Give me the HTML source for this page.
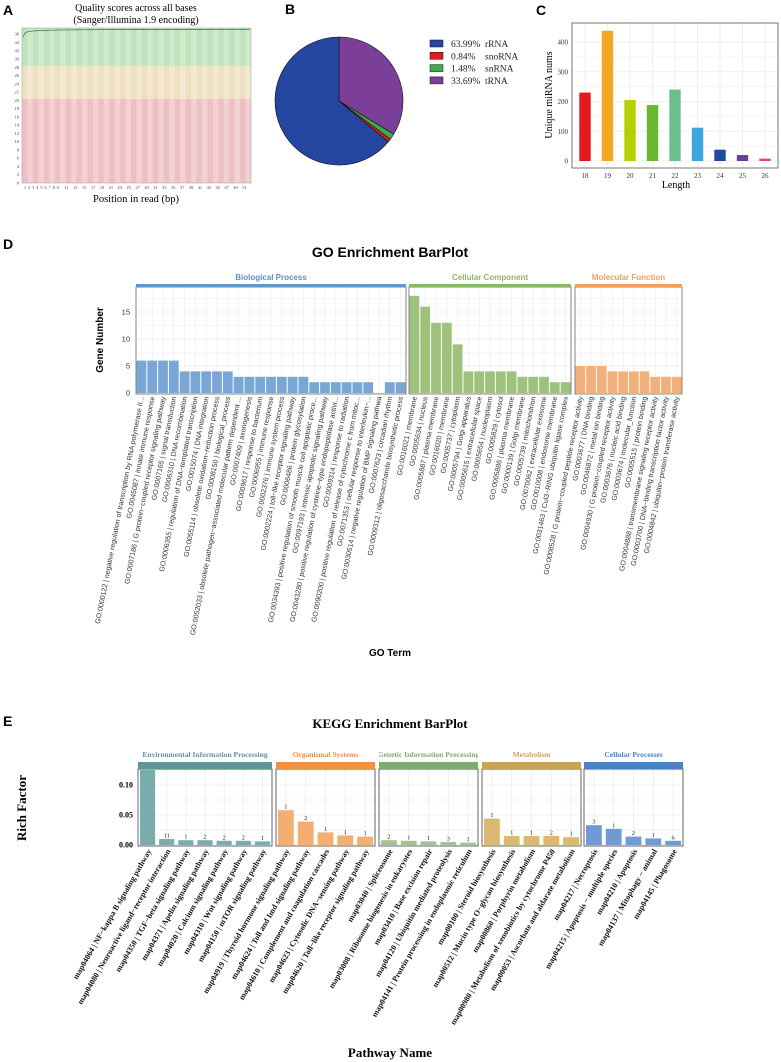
<!DOCTYPE html>
<html><head><meta charset="utf-8">
<style>
html,body{margin:0;padding:0;background:#fff;}
svg{display:block;}
</style></head>
<body>
<svg id="s" xmlns="http://www.w3.org/2000/svg" width="781" height="1062" viewBox="0 0 781 1062" font-family="Liberation Sans, sans-serif">
<rect width="781" height="1062" fill="#fff"/>
<g font-weight="bold" font-size="14" fill="#000">
<text x="3" y="15">A</text><text x="285" y="14">B</text><text x="536" y="15">C</text>
<text x="3" y="249">D</text><text x="3" y="726">E</text>
</g>
</svg>
<script>
var S=document.getElementById('s'),NS='http://www.w3.org/2000/svg';
function el(t,a,txt,p){var e=document.createElementNS(NS,t);for(var k in a)e.setAttribute(k,a[k]);if(txt!=null)e.textContent=txt;(p||S).appendChild(e);return e;}
var serif='Liberation Serif, serif';
// ---------- A ----------
el('text',{x:136,y:11,'font-family':serif,'font-size':10,'text-anchor':'middle'},'Quality scores across all bases');
el('text',{x:136,y:23,'font-family':serif,'font-size':10,'text-anchor':'middle'},'(Sanger/Illumina 1.9 encoding)');
var ax0=22,ax1=251,ay0=28,ay1=183;
el('rect',{x:ax0,y:ay0,width:ax1-ax0,height:66-ay0,fill:'#bfe3bd'});
el('rect',{x:ax0,y:66,width:ax1-ax0,height:33,fill:'#efe0c0'});
el('rect',{x:ax0,y:99,width:ax1-ax0,height:ay1-99,fill:'#eec0c4'});
var nS=42,sw=(ax1-ax0)/nS;
for(var i=1;i<nS;i+=2){el('rect',{x:ax0+i*sw,y:ay0,width:sw,height:ay1-ay0,fill:'#fff',opacity:0.25});}
el('rect',{x:ax0,y:ay0,width:ax1-ax0,height:ay1-ay0,fill:'none',stroke:'#999','stroke-width':0.5});
for(var v=0;v<=36;v+=2){var y=ay1-v*(ay1-ay0)/37.5;el('text',{x:ax0-3,y:y+1.5,'font-family':serif,'font-size':4.5,'text-anchor':'end',fill:'#444'},v);}
el('polyline',{points:'23,37 25,33 28,31.5 33,31 40,30.5 60,30 100,29.6 250,29.5',fill:'none',stroke:'#3d7a5a','stroke-width':0.8});
var xl=[1,2,3,4,5,6,7,8,9,11,13,15,17,19,21,23,25,27,29,31,33,35,37,39,41,43,45,47,49,51];
for(var i=0;i<xl.length;i++){var xx=i<9?ax0+3+i*4.1:ax0+3+36.9+(i-8.5)*(ax1-ax0-42)/21;el('text',{x:xx,y:189,'font-family':serif,'font-size':4.5,'text-anchor':'middle',fill:'#444'},xl[i]);}
el('text',{x:136,y:202,'font-family':serif,'font-size':10.5,'text-anchor':'middle'},'Position in read (bp)');
// ---------- B ----------
var cx=339,cy=101,r=64;
var sl=[[33.69,'#7b3f99'],[1.48,'#3aad48'],[0.84,'#e31a1c'],[63.99,'#2546a0']];
var a=0;
sl.forEach(function(s){var a2=a+s[0]/100*2*Math.PI;var x1=cx+r*Math.sin(a),y1=cy-r*Math.cos(a),x2=cx+r*Math.sin(a2),y2=cy-r*Math.cos(a2);
el('path',{d:'M'+cx+','+cy+'L'+x1+','+y1+'A'+r+','+r+' 0 '+((a2-a)>Math.PI?1:0)+' 1 '+x2+','+y2+'Z',fill:s[1],stroke:'#111','stroke-width':0.6});a=a2;});
var lg=[['#2546a0','63.99%','rRNA'],['#e31a1c','0.84%','snoRNA'],['#3aad48','1.48%','snRNA'],['#7b3f99','33.69%','tRNA']];
lg.forEach(function(l,i){var y=40+i*12.3;el('rect',{x:430,y:y,width:13,height:7,fill:l[0],stroke:'#111','stroke-width':0.5});
el('text',{x:451,y:y+7,'font-family':serif,'font-size':9.5,fill:'#222'},l[1]);el('text',{x:485,y:y+7,'font-family':serif,'font-size':9.5,fill:'#222'},l[2]);});
// ---------- C ----------
var px0=572,px1=778,py0=23,py1=168,y0=161,k=119/400;
for(var v=0;v<=400;v+=50){var y=y0-v*k;el('line',{x1:px0,x2:px1,y1:y,y2:y,stroke:'#ebebeb','stroke-width':v%100?0.4:0.8});}
var cv=[230,438,205,188,240,112,38,20,8],cc=['#e31a1c','#f5a623','#b5d000','#6ab82e','#6cc08d','#3da6e0','#1f4c9c','#6a3d9a','#e0458c'];
for(var i=0;i<9;i++){var x=585+i*22.5;el('line',{x1:x,x2:x,y1:py0,y2:py1,stroke:'#ebebeb','stroke-width':0.8});}
for(var i=0;i<9;i++){var x=585+i*22.5;el('rect',{x:x-5.7,y:y0-cv[i]*k,width:11.4,height:cv[i]*k,fill:cc[i]});
el('text',{x:x,y:178,'font-family':serif,'font-size':7,'text-anchor':'middle',fill:'#333'},18+i);}
el('rect',{x:px0,y:py0,width:px1-px0,height:py1-py0,fill:'none',stroke:'#555','stroke-width':0.8});
for(var v=0;v<=400;v+=100){var y=y0-v*k;el('text',{x:px0-4,y:y+2.5,'font-family':serif,'font-size':7,'text-anchor':'end',fill:'#333'},v);}
el('text',{x:676,y:188,'font-family':serif,'font-size':10,'text-anchor':'middle'},'Length');
el('text',{transform:'translate(552,95) rotate(-90)','font-family':serif,'font-size':10,'text-anchor':'middle'},'Unique miRNA nums');
// ---------- D ----------
el('text',{x:390,y:257,'font-size':14,'font-weight':'bold','text-anchor':'middle'},'GO Enrichment BarPlot');
var GY0=393,GT=287,gk=5.4;
var gp=[
{x0:136,x1:406,c:'#7aa6d6',sc:'#6497c9',tc:'#5b8fc7',t:'Biological Process',v:[6,6,6,6,4,4,4,4,4,3,3,3,3,3,3,3,2,2,2,2,2,2,0,2,2],
l:['GO:0000122 | negative regulation of transcription by RNA polymerase II...','GO:0045087 | innate immune response','GO:0007186 | G protein−coupled receptor signaling pathway','GO:0007165 | signal transduction','GO:0006310 | DNA recombination','GO:0006355 | regulation of DNA−templated transcription','GO:0015074 | DNA integration','GO:0055114 | obsolete oxidation−reduction process','GO:0008150 | biological_process','GO:0052033 | obsolete pathogen−associated molecular pattern dependent ...','GO:0007409 | axonogenesis','GO:0009617 | response to bacterium','GO:0006955 | immune response','GO:0002376 | immune system process','GO:0002224 | toll−like receptor signaling pathway','GO:0006486 | protein glycosylation','GO:0034393 | positive regulation of smooth muscle cell apoptotic proce...','GO:0097193 | intrinsic apoptotic signaling pathway','GO:0043280 | positive regulation of cysteine−type endopeptidase activi...','GO:0009314 | response to radiation','GO:0090200 | positive regulation of release of cytochrome c from mitoc...','GO:0071353 | cellular response to interleukin−...','GO:0030514 | negative regulation of BMP signaling pathwa','GO:0007623 | circadian rhythm','GO:0009312 | oligosaccharide biosynthetic process']},
{x0:409,x1:571,c:'#9ec27c',sc:'#8bb866',tc:'#8bb866',t:'Cellular Component',v:[18,16,13,13,9,4,4,4,4,4,3,3,3,2,2],
l:['GO:0016021 | membrane','GO:0005634 | nucleus','GO:0005887 | plasma membrane','GO:0016020 | membrane','GO:0005737 | cytoplasm','GO:0005794 | Golgi apparatus','GO:0005615 | extracellular space','GO:0005654 | nucleoplasm','GO:0005829 | cytosol','GO:0005886 | plasma membrane','GO:0000139 | Golgi membrane','GO:0005739 | mitochondrion','GO:0070062 | extracellular exosome','GO:0010008 | endosome membrane','GO:0031463 | Cul3−RING ubiquitin ligase complex']},
{x0:575,x1:682,c:'#f2b07a',sc:'#f0a060',tc:'#f0a060',t:'Molecular Function',v:[5,5,5,4,4,4,4,3,3,3],
l:['GO:0008528 | G protein−coupled peptide receptor activity','GO:0003677 | DNA binding','GO:0046872 | metal ion binding','GO:0004930 | G protein−coupled receptor activity','GO:0003676 | nucleic acid binding','GO:0003674 | molecular_function','GO:0005515 | protein binding','GO:0004888 | transmembrane signaling receptor activity','GO:0003700 | DNA−binding transcription factor activity','GO:0004842 | ubiquitin−protein transferase activity']}];
gp.forEach(function(p){var n=p.v.length,w=(p.x1-p.x0)/n;
for(var v=0;v<=17.5;v+=2.5){var y=GY0-v*gk;el('line',{x1:p.x0,x2:p.x1,y1:y,y2:y,stroke:'#ebebeb','stroke-width':v%5?0.4:0.8});}
for(var i=0;i<n;i++){var x=p.x0+(i+0.5)*w;el('line',{x1:x,x2:x,y1:GT,y2:GY0,stroke:'#ebebeb','stroke-width':0.6});}
for(var i=0;i<n;i++){var x=p.x0+i*w;if(p.v[i])el('rect',{x:x+0.5,y:GY0-p.v[i]*gk,width:w-1,height:p.v[i]*gk,fill:p.c});
var tx=p.x0+(i+0.5)*w+2.5;el('text',{transform:'translate('+tx+','+(GY0+4)+') rotate(-79)','font-size':7.1,'text-anchor':'end',fill:'#333'},p.l[i]);}
el('rect',{x:p.x0,y:GT,width:p.x1-p.x0,height:GY0-GT+1,fill:'none',stroke:'#666','stroke-width':0.8});
el('rect',{x:p.x0,y:284,width:p.x1-p.x0,height:3,fill:p.sc});
el('text',{x:(p.x0+p.x1)/2,y:280,'font-size':8,'font-weight':'bold','text-anchor':'middle',fill:p.tc},p.t);});
[0,5,10,15].forEach(function(v){el('text',{x:130,y:GY0-v*gk+2.5,'font-size':7.5,'text-anchor':'end',fill:'#333'},v);});
el('text',{transform:'translate(103,340) rotate(-90)','font-size':10,'font-weight':'bold','text-anchor':'middle'},'Gene Number');
el('text',{x:390,y:656,'font-size':10,'font-weight':'bold','text-anchor':'middle'},'GO Term');
// ---------- E ----------
el('text',{x:390,y:728,'font-family':serif,'font-size':13,'font-weight':'bold','text-anchor':'middle'},'KEGG Enrichment BarPlot');
var KY0=845,KT=769,kk=600;
var kp=[
{x0:138,x1:272,c:'#7aabad',sc:'#5e9698',t:'Environmental Information Processing',v:[0.125,0.01,0.008,0.008,0.007,0.007,0.006],n:['','11','1','2','2','2','1'],
l:['map04064 | NF−kappa B signaling pathway','map04080 | Neuroactive ligand−receptor interaction','map04350 | TGF−beta signaling pathway','map04371 | Apelin signaling pathway','map04020 | Calcium signaling pathway','map04310 | Wnt signaling pathway','map04150 | mTOR signaling pathway']},
{x0:276,x1:375,c:'#f3ae72',sc:'#f0913f',t:'Organismal Systems',v:[0.058,0.039,0.021,0.016,0.014],n:['1','2','1','1','1'],
l:['map04919 | Thyroid hormone signaling pathway','map04624 | Toll and Imd signaling pathway','map04610 | Complement and coagulation cascades','map04623 | Cytosolic DNA−sensing pathway','map04620 | Toll−like receptor signaling pathway']},
{x0:379,x1:478,c:'#a3c490',sc:'#7fab6c',t:'Genetic Information Processing',v:[0.008,0.007,0.006,0.005,0.004],n:['2','1','1','3','1'],
l:['map03040 | Spliceosome','map03008 | Ribosome biogenesis in eukaryotes','map03410 | Base excision repair','map04120 | Ubiquitin mediated proteolysis','map04141 | Protein processing in endoplasmic reticulum']},
{x0:482,x1:581,c:'#dcb872',sc:'#caa25a',t:'Metabolism',v:[0.044,0.015,0.015,0.015,0.013],n:['1','1','1','2','1'],
l:['map00100 | Steroid biosynthesis','map00512 | Mucin type O−glycan biosynthesis','map00860 | Porphyrin metabolism','map00980 | Metabolism of xenobiotics by cytochrome P450','map00053 | Ascorbate and aldarate metabolism']},
{x0:584,x1:683,c:'#6f9bd2',sc:'#4a82c4',t:'Cellular Processes',v:[0.033,0.027,0.014,0.011,0.007],n:['3','1','2','1','6'],
l:['map04217 | Necroptosis','map04215 | Apoptosis − multiple species','map04210 | Apoptosis','map04137 | Mitophagy − animal','map04145 | Phagosome']}];
var defs=el('defs',{});
kp.forEach(function(p,j){var n=p.v.length,w=(p.x1-p.x0)/n;
for(var v=0;v<=0.125;v+=0.025){var y=KY0-v*kk;el('line',{x1:p.x0,x2:p.x1,y1:y,y2:y,stroke:'#ebebeb','stroke-width':0.8});}
for(var i=0;i<n;i++){var x=p.x0+(i+0.5)*w;el('line',{x1:x,x2:x,y1:KT,y2:KY0,stroke:'#ebebeb','stroke-width':0.8});}
for(var i=0;i<n;i++){var x=p.x0+i*w,h=p.v[i]*kk;el('rect',{x:x+2,y:KY0-h,width:w-4,height:h,fill:p.c});
if(p.n[i])el('text',{x:x+w/2,y:KY0-h-1.5,'font-family':serif,'font-size':6.5,'text-anchor':'middle',fill:'#333'},p.n[i]);
var tx=x+w/2+4;el('text',{transform:'translate('+tx+','+(KY0+6)+') rotate(-60)','font-family':serif,'font-size':8,'font-weight':'bold','text-anchor':'end',fill:'#111'},p.l[i]);}
el('rect',{x:p.x0,y:KT,width:p.x1-p.x0,height:KY0-KT+1,fill:'none',stroke:'#666','stroke-width':1});
el('rect',{x:p.x0,y:762,width:p.x1-p.x0,height:7,fill:p.sc});
var cp=el('clipPath',{id:'c'+j},null,defs);el('rect',{x:p.x0,y:745,width:p.x1-p.x0,height:15},null,cp);
el('text',{x:(p.x0+p.x1)/2,y:757,'font-family':serif,'font-size':7.5,'font-weight':'bold','text-anchor':'middle',fill:p.sc,'clip-path':'url(#c'+j+')'},p.t);});
[[0,'0.00'],[0.05,'0.05'],[0.1,'0.10']].forEach(function(t){el('text',{x:133,y:KY0-t[0]*kk+2.5,'font-family':serif,'font-size':8,'font-weight':'bold','text-anchor':'end'},t[1]);});
el('text',{transform:'translate(26,808) rotate(-90)','font-family':serif,'font-size':13,'font-weight':'bold','text-anchor':'middle'},'Rich Factor');
el('text',{x:390,y:1057,'font-family':serif,'font-size':13,'font-weight':'bold','text-anchor':'middle'},'Pathway Name');
</script>
</body></html>
